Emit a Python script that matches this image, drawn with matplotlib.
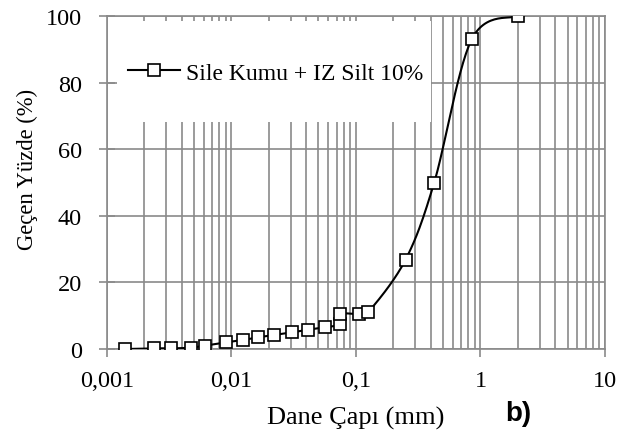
import numpy as np
import matplotlib.pyplot as plt
from matplotlib.patches import Rectangle
from matplotlib.ticker import FixedLocator, NullFormatter

# grain size (mm) and percent passing
size_mm = [0.0014, 0.0024, 0.0033, 0.0047, 0.0061, 0.009, 0.0124, 0.0163, 0.0219,
           0.0306, 0.041, 0.056, 0.075, 0.075, 0.106, 0.125, 0.25, 0.425, 0.85, 2.0]
passing = [0.0, 0.2, 0.2, 0.4, 1.0, 2.0, 2.7, 3.5, 4.2,
           5.0, 5.8, 6.5, 7.5, 10.5, 10.5, 11.0, 26.8, 50.0, 93.0, 100.0]
xtick_vals = [0.001, 0.01, 0.1, 1, 10]
xtick_labels = ["0,001", "0,01", "0,1", "1", "10"]
ytick_vals = [0, 20, 40, 60, 80, 100]
series_name = "Sile Kumu + IZ Silt 10%"


def smooth(x, y, n=30):
    # Catmull-Rom through the points, in log-x space (like Excel's smoothed line)
    u = np.log10(x) * 124.5
    v = np.asarray(y) * 3.33
    P = np.column_stack([u, v])
    P = np.vstack([P[0], P, P[-1]])
    out = []
    for i in range(1, len(P) - 2):
        p0, p1, p2, p3 = P[i - 1], P[i], P[i + 1], P[i + 2]
        t = np.linspace(0, 1, n)[:, None]
        c1 = p1 + (p2 - p0) / 6
        c2 = p2 - (p3 - p1) / 6
        b = ((1 - t) ** 3) * p1 + 3 * ((1 - t) ** 2) * t * c1 + 3 * (1 - t) * t ** 2 * c2 + t ** 3 * p2
        out.append(b)
    out = np.vstack(out)
    return 10 ** (out[:, 0] / 124.5), out[:, 1] / 3.33


plt.rcParams['font.family'] = ['Liberation Serif', 'DejaVu Serif']
fig = plt.figure(figsize=(6.18, 4.39), dpi=100)
ax = fig.add_axes([0.173, 0.2027, 0.806, 0.7585])

ax.set_xscale('log')
ax.set_xlim(0.001, 10)
ax.set_ylim(0, 100)

grid_c = '#8a8a8a'
ax.xaxis.set_major_locator(FixedLocator(xtick_vals))
ax.set_xticklabels(xtick_labels)
minors = [m * 10.0 ** e for e in range(-3, 1) for m in range(2, 10)]
ax.xaxis.set_minor_locator(FixedLocator(minors))
ax.xaxis.set_minor_formatter(NullFormatter())
ax.set_yticks(ytick_vals)
ax.grid(True, which='both', axis='x', color=grid_c, lw=1.2)
ax.grid(True, which='major', axis='y', color=grid_c, lw=1.2)
ax.set_axisbelow(True)
for s in ax.spines.values():
    s.set_color(grid_c)
    s.set_linewidth(1.2)
ax.tick_params(axis='x', which='major', direction='out', length=6, color=grid_c, width=1.2,
               labelsize=17.5, pad=9)
ax.tick_params(axis='x', which='minor', length=0)
ax.tick_params(axis='y', which='major', direction='inout', length=12, color=grid_c, width=1.2,
               labelsize=17.5, pad=12)

# white box behind the legend, hiding the grid
ax.add_patch(Rectangle((0.02, 0.682), 0.63, 0.303, transform=ax.transAxes,
                       facecolor='white', edgecolor='none', zorder=1.5))

xs, ys = smooth(size_mm, passing)
ax.plot(xs, ys, color='black', lw=1.5, zorder=3)
ax.plot(size_mm, passing, ls='none', marker='s', ms=8, mfc='white', mec='black', mew=1.2,
        zorder=4)
ax.plot([], [], color='black', lw=1.5, marker='s', ms=8, mfc='white', mec='black', mew=1.2,
        label=series_name)
leg = ax.legend(loc='upper left', bbox_to_anchor=(0.023, 0.89), frameon=False, fontsize=17,
                handlelength=2.2, handletextpad=0.25, borderaxespad=0)
leg.set_zorder(5)

ax.set_ylabel("Geçen Yüzde (%)", fontsize=16.3)
ax.yaxis.set_label_coords(-0.138, 0.5435)
ax.set_xlabel("Dane Çapı (mm)", fontsize=19)
ax.xaxis.set_label_coords(0.5, -0.17)
fig.text(0.817, 0.041, "b)", fontsize=20, fontweight='bold', family='Liberation Sans')

fig.savefig('out.png', dpi=100)
